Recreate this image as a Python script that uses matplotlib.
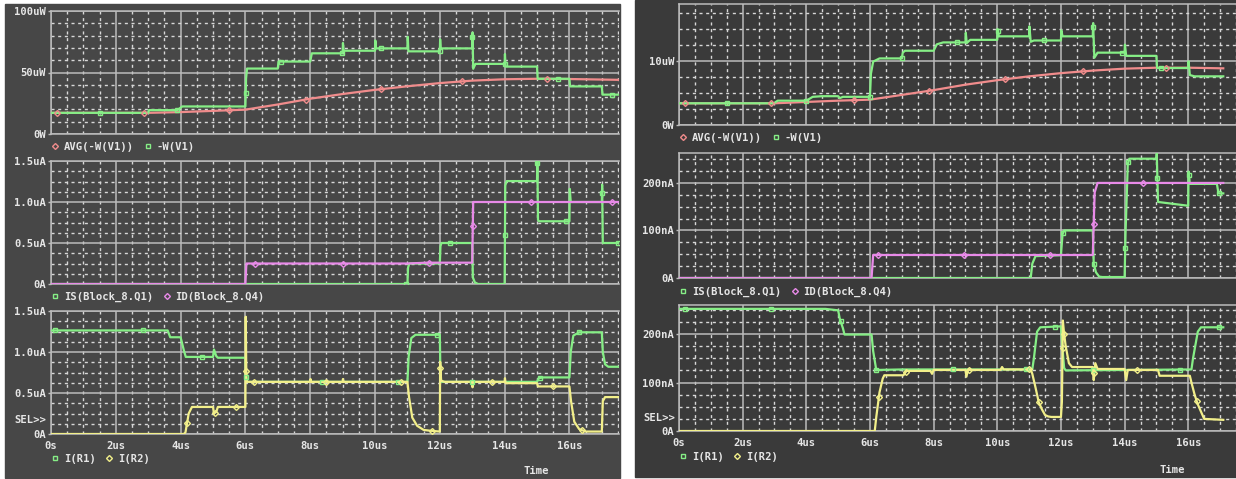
import numpy as np
import matplotlib.pyplot as plt
from matplotlib.patches import Rectangle
from matplotlib.lines import Line2D

plt.rcParams['font.family'] = ['DejaVu Sans Mono']
plt.rcParams['font.weight'] = 'bold'

W, H = 1236, 479

# ---------------- colours ----------------
BG_L = '#474747'
BG_R = '#3a3a3a'
GRID = '#bcbcbc'
DOT = '#d8d8d8'
TXT = '#e6e6e6'
GREEN = '#86ee86'
PINK = '#f08c8c'
VIOLET = '#e88ae8'
YELLOW = '#f2ef8a'

# ================= left screenshot data (time in us) =================
# panel 1: power, uW
l_avg_t = [0, 3.0, 4.0, 5.0, 6.0, 7.0, 8.0, 9.0, 10.0, 11.0, 12.0, 13.0, 14.0, 15.0, 16.0, 17.6]
l_avg_v = [17.2, 17.2, 17.8, 18.8, 19.8, 24.0, 28.7, 32.5, 35.9, 38.8, 41.4, 43.4, 44.5, 44.9, 44.7, 44.0]
l_w_t = [0, 3.0, 3.02, 3.9, 4.05, 6.0, 6.02, 6.05, 7.0, 7.02, 8.0, 8.05,
         9.0, 9.01, 9.03, 10.0, 10.01, 10.03, 11.0, 11.01, 11.03, 12.0, 12.01, 12.03,
         13.0, 13.01, 13.03, 13.1, 14.0, 14.01, 14.03, 15.0, 15.02, 16.0, 16.02, 17.0, 17.02, 17.6]
l_w_v = [17.2, 17.2, 19.4, 19.4, 22.4, 22.4, 45.0, 53.2, 53.2, 58.9, 58.9, 65.6,
         65.6, 74.0, 67.7, 67.7, 76.0, 69.6, 69.6, 79.0, 67.2, 67.2, 77.0, 69.6,
         69.6, 82.5, 53.0, 57.0, 57.0, 65.0, 54.8, 54.8, 44.9, 44.9, 38.7, 38.7, 32.0, 32.0]
l_avg_mk = [0.18, 2.87, 5.48, 7.86, 10.2, 12.68, 15.3]
l_w_mk = [1.5, 3.9, 6.01, 7.1, 8.97, 10.2, 12.0, 13.007, 14.0, 15.65, 17.3]

# panel 2: device currents, uA
l_is_t = [0, 11.0, 11.02, 11.06, 12.0, 12.02, 12.05, 13.0, 13.02, 13.08, 13.18, 14.0, 14.02, 14.06,
          15.0, 15.01, 15.03, 15.06, 16.0, 16.01, 16.04, 17.0, 17.01, 17.03, 17.6]
l_is_v = [0, 0, 0.2, 0.25, 0.25, 0.46, 0.5, 0.5, 0.08, 0.02, 0, 0, 1.2, 1.255,
          1.255, 1.5, 0.78, 0.765, 0.765, 1.16, 1.0, 1.0, 1.21, 0.5, 0.5]
l_id_t = [0, 6.0, 6.03, 11.0, 11.6, 13.0, 13.03, 17.6]
l_id_v = [0, 0, 0.25, 0.25, 0.26, 0.26, 1.0, 1.0]
l_is_mk = [10.97, 12.3, 14.01, 15.009, 15.9, 17.005, 17.5]
l_id_mk = [6.3, 9.0, 11.67, 13.018, 14.8, 17.3]

# panel 3: resistor currents, uA
l_r1_t = [0, 3.6, 3.68, 4.0, 4.1, 4.16, 5.0, 5.03, 5.1, 5.15, 6.0, 6.02, 6.05,
          11.0, 11.04, 11.12, 11.25, 12.0, 12.02, 12.05, 15.0, 15.05, 15.2, 16.0, 16.04, 16.12, 16.3,
          17.0, 17.03, 17.1, 17.2, 17.6]
l_r1_v = [1.263, 1.263, 1.18, 1.18, 1.02, 0.94, 0.94, 1.03, 0.95, 0.93, 0.93, 0.7, 0.636,
          0.636, 0.95, 1.17, 1.21, 1.21, 0.7, 0.636, 0.636, 0.68, 0.69, 0.69, 1.0, 1.2, 1.24,
          1.24, 1.0, 0.85, 0.82, 0.82]
l_r2_t = [0, 4.1, 4.15, 4.25, 4.35, 5.0, 5.03, 5.1, 5.15, 6.0, 6.01, 6.03, 6.06,
          8.0, 8.01, 8.03, 9.0, 9.01, 9.03, 11.0, 11.05, 11.15, 11.3, 11.5, 11.7, 12.0, 12.01, 12.04, 12.15,
          13.0, 13.01, 13.03, 14.0, 14.01, 14.03, 15.0, 15.03, 16.0, 16.05, 16.15, 16.3, 16.5,
          17.0, 17.03, 17.1, 17.6]
l_r2_v = [0, 0, 0.02, 0.25, 0.33, 0.33, 0.25, 0.27, 0.33, 0.33, 1.43, 0.66, 0.636,
          0.636, 0.67, 0.636, 0.636, 0.67, 0.636, 0.636, 0.45, 0.2, 0.1, 0.05, 0.04, 0.03, 0.88, 0.65, 0.636,
          0.636, 0.57, 0.636, 0.636, 0.68, 0.62, 0.62, 0.58, 0.58, 0.4, 0.15, 0.06, 0.03,
          0.03, 0.4, 0.45, 0.45]
l_r1_mk = [0.12, 2.85, 4.65, 6.02, 8.37, 10.7, 11.9, 13.0, 15.1, 16.3]
l_r2_mk = [4.2, 5.06, 5.7, 6.004, 6.27, 8.5, 10.8, 11.75, 12.02, 13.6, 15.5, 16.4]

# ================= right screenshot data =================
# panel 1: power, uW
r_avg_t = [0, 3.0, 4.0, 5.0, 6.0, 7.0, 8.0, 9.0, 10.0, 11.0, 12.0, 13.0, 14.0, 15.0, 16.0, 17.1]
r_avg_v = [3.39, 3.39, 3.6, 3.8, 3.96, 4.7, 5.45, 6.3, 7.0, 7.6, 8.1, 8.5, 8.8, 8.95, 8.95, 8.85]
r_w_t = [0, 2.98, 3.1, 4.0, 4.2, 4.5, 5.0, 5.05, 5.15, 6.0, 6.03, 6.1, 6.3, 7.0, 7.03, 7.1,
         8.0, 8.1, 8.3, 9.0, 9.01, 9.04, 9.15, 10.0, 10.01, 10.05, 11.0, 11.01, 11.05, 11.15,
         12.0, 12.01, 12.05, 13.0, 13.01, 13.05, 13.15, 14.0, 14.01, 14.05, 15.0, 15.02,
         16.0, 16.01, 16.05, 16.2, 17.1]
r_w_v = [3.39, 3.39, 3.8, 3.8, 4.4, 4.5, 4.5, 4.2, 4.4, 4.4, 8.0, 9.9, 10.4, 10.4, 11.3, 11.6,
         11.6, 12.6, 12.9, 12.9, 14.4, 12.8, 13.3, 13.3, 15.0, 13.85, 13.85, 15.4, 13.0, 13.2,
         13.2, 14.8, 13.85, 13.85, 15.9, 10.5, 11.3, 11.3, 12.55, 10.8, 10.8, 8.9,
         8.9, 9.95, 7.8, 7.6, 7.6]
r_avg_mk = [0.18, 2.9, 5.5, 7.87, 10.25, 12.7, 15.3]
r_w_mk = [1.52, 4.0, 6.0, 7.0, 8.72, 10.02, 11.46, 13.007, 13.92, 15.15]

# panel 2: device currents, nA
r_is_t = [0, 11.05, 11.1, 11.2, 12.0, 12.05, 12.1, 13.0, 13.03, 13.1, 13.2, 13.3,
          14.0, 14.03, 14.1, 14.15, 15.0, 15.01, 15.05, 16.0, 16.01, 16.05, 16.9, 16.95, 17.1]
r_is_v = [0, 0, 30, 46, 48, 92, 100, 100, 30, 12, 3, 2,
          2, 95, 240, 251, 251, 262, 160, 152, 224, 198, 198, 178, 178]
r_id_t = [0, 6.05, 6.1, 13.0, 13.06, 13.15, 17.1]
r_id_v = [0, 0, 48.4, 48.4, 180, 200, 200]
r_is_mk = [12.07, 13.03, 14.02, 14.12, 15.03, 16.02, 16.97]
r_id_mk = [6.25, 8.95, 11.65, 13.03, 14.58]

# panel 3: resistor currents, nA
r_r1_t = [0, 4.6, 5.0, 5.05, 5.15, 5.2, 6.05, 6.1, 6.2, 6.25, 7.0,
          11.1, 11.15, 11.25, 11.35, 12.0, 12.05, 12.1, 12.15, 16.1, 16.15, 16.3, 16.4, 17.1]
r_r1_v = [252, 252, 249, 232, 212, 199, 199, 165, 125, 126, 127,
          127, 150, 205, 214, 216, 170, 130, 125, 127, 150, 205, 214, 214]
r_r2_t = [0, 6.15, 6.2, 6.3, 6.4, 6.45, 7.05, 7.15, 7.9, 7.95, 8.0, 9.0, 9.03, 9.08,
          10.1, 10.15, 10.2, 11.05, 11.1, 11.2, 11.3, 11.4, 11.5, 11.6, 11.7, 12.0, 12.03, 12.06,
          12.1, 12.15, 12.25, 12.35, 13.0, 13.03, 13.08, 13.15, 14.0, 14.05, 14.1, 15.05, 15.1,
          16.05, 16.1, 16.2, 16.3, 16.4, 16.5, 17.1]
r_r2_v = [0, 0, 30, 80, 108, 115, 115, 124, 124, 118, 126, 126, 112, 126,
          126, 132, 127, 127, 118, 90, 60, 45, 33, 30, 29, 29, 60, 228,
          200, 175, 140, 132, 132, 105, 140, 128, 128, 105, 126, 126, 114,
          114, 100, 75, 55, 40, 25, 23]
r_r1_mk = [0.18, 2.9, 5.08, 6.2, 8.6, 10.9, 11.8, 13.0, 15.75, 16.98]
r_r2_mk = [6.28, 7.12, 9.1, 11.0, 11.3, 12.05, 12.1, 13.05, 14.4, 16.27]

x_ticks = [0, 2, 4, 6, 8, 10, 12, 14, 16]
x_labels = ['0s', '2us', '4us', '6us', '8us', '10us', '12us', '14us', '16us']

FS = 7.6

fig = plt.figure(figsize=(W / 100, H / 100), dpi=100)
fig.patch.set_facecolor('white')


def px_rect(x0, y0, x1, y1, color):
    fig.add_artist(Rectangle((x0 / W, 1 - y1 / H), (x1 - x0) / W, (y1 - y0) / H,
                             transform=fig.transFigure, color=color, zorder=0))


def px_axes(x0, y0, x1, y1):
    return fig.add_axes([x0 / W, 1 - y1 / H, (x1 - x0) / W, (y1 - y0) / H])


def setup(ax, tmax, ymax, yticks, ylabels, ystep, show_x):
    ax.set_facecolor('none')
    ax.set_xlim(0, tmax)
    ax.set_ylim(0, ymax)
    ax.set_xticks(x_ticks)
    ax.set_xticks(np.arange(0, 18, 0.5), minor=True)
    ax.set_yticks(yticks)
    ax.set_yticklabels(ylabels)
    ax.set_yticks(np.arange(0, ymax, ystep), minor=True)
    ax.grid(which='major', color=GRID, lw=1.1)
    ax.grid(which='minor', color=DOT, lw=1.0, ls=(0, (2.2, 2.6)))
    ax.set_axisbelow(True)
    ax.tick_params(which='minor', length=0)
    ax.tick_params(axis='y', which='major', length=2.5, width=1, color=GRID, pad=1,
                   labelsize=FS, labelcolor=TXT)
    ax.tick_params(axis='x', which='major', length=0, pad=5, labelsize=FS, labelcolor=TXT)
    if show_x:
        ax.set_xticklabels(x_labels)
    else:
        ax.tick_params(axis='x', labelbottom=False)
    ax.spines['right'].set_visible(False)
    for s in ('left', 'top', 'bottom'):
        ax.spines[s].set_color(GRID)
        ax.spines[s].set_linewidth(1.1)


def trace(ax, t, v, color, marker, mk):
    ax.plot(t, v, color=color, lw=1.6, zorder=3)
    ms = 3.2 if marker == 's' else 3.0
    ax.plot(mk, np.interp(mk, t, v), ls='none', marker=marker, ms=ms, mfc='none',
            mec=color, mew=1.0, zorder=4)


def legend(ax, entries, x_px, y_px):
    handles = [Line2D([], [], ls='none', marker=m, ms=3.2 if m == 's' else 3.0,
                      mfc='none', mec=c, mew=1.0) for c, m, _ in entries]
    labels = [lab for _, _, lab in entries]
    ax.legend(handles, labels, loc='center left', bbox_to_anchor=(x_px / W, 1 - y_px / H),
              bbox_transform=fig.transFigure, ncol=len(entries), frameon=False,
              borderpad=0, borderaxespad=0, handlelength=0.8, handletextpad=0.45,
              columnspacing=0.85, prop={'size': FS, 'weight': 'bold'}, labelcolor=TXT)


# backgrounds of the two screenshots
px_rect(5, 4, 620, 478, BG_L)
px_rect(635, 0, 1236, 477, BG_R)

# ---------------- left screenshot ----------------
L_T = 17.53
ua = [0, 0.5, 1.0, 1.5]
ua_lab = ['0A', '0.5uA', '1.0uA', '1.5uA']

ax = px_axes(51, 11, 619, 134)
setup(ax, L_T, 100, [0, 50, 100], ['0W', '50uW', '100uW'], 10, False)
trace(ax, l_avg_t, l_avg_v, PINK, 'D', l_avg_mk)
trace(ax, l_w_t, l_w_v, GREEN, 's', l_w_mk)
legend(ax, [(PINK, 'D', 'AVG(-W(V1))'), (GREEN, 's', '-W(V1)')], 51, 147)

ax = px_axes(51, 161, 619, 284)
setup(ax, L_T, 1.5, ua, ua_lab, 0.125, False)
trace(ax, l_is_t, l_is_v, GREEN, 's', l_is_mk)
trace(ax, l_id_t, l_id_v, VIOLET, 'D', l_id_mk)
legend(ax, [(GREEN, 's', 'IS(Block_8.Q1)'), (VIOLET, 'D', 'ID(Block_8.Q4)')], 51, 297)

ax = px_axes(51, 311, 619, 434)
setup(ax, L_T, 1.5, ua, ua_lab, 0.125, True)
trace(ax, l_r1_t, l_r1_v, GREEN, 's', l_r1_mk)
trace(ax, l_r2_t, l_r2_v, YELLOW, 'D', l_r2_mk)
legend(ax, [(GREEN, 's', 'I(R1)'), (YELLOW, 'D', 'I(R2)')], 51, 459)
fig.text(46 / W, 1 - 420 / H, 'SEL>>', ha='right', va='center', fontsize=FS, color=TXT)
fig.text(536 / W, 1 - 471 / H, 'Time', ha='center', va='center', fontsize=FS, color=TXT)

# ---------------- right screenshot ----------------
R_T = 16.98
na = [0, 100, 200]
na_lab = ['0A', '100nA', '200nA']

ax = px_axes(679, 4, 1236, 125)
setup(ax, R_T, 18.9, [0, 10], ['0W', '10uW'], 2.5, False)
trace(ax, r_avg_t, r_avg_v, PINK, 'D', r_avg_mk)
trace(ax, r_w_t, r_w_v, GREEN, 's', r_w_mk)
legend(ax, [(PINK, 'D', 'AVG(-W(V1))'), (GREEN, 's', '-W(V1)')], 679, 138)

ax = px_axes(679, 153, 1236, 278)
setup(ax, R_T, 263, na, na_lab, 25, False)
trace(ax, r_is_t, r_is_v, GREEN, 's', r_is_mk)
trace(ax, r_id_t, r_id_v, VIOLET, 'D', r_id_mk)
legend(ax, [(GREEN, 's', 'IS(Block_8.Q1)'), (VIOLET, 'D', 'ID(Block_8.Q4)')], 679, 292)

ax = px_axes(679, 305, 1236, 431)
setup(ax, R_T, 260, na, na_lab, 25, True)
trace(ax, r_r1_t, r_r1_v, GREEN, 's', r_r1_mk)
trace(ax, r_r2_t, r_r2_v, YELLOW, 'D', r_r2_mk)
legend(ax, [(GREEN, 's', 'I(R1)'), (YELLOW, 'D', 'I(R2)')], 679, 457)
fig.text(675 / W, 1 - 418 / H, 'SEL>>', ha='right', va='center', fontsize=FS, color=TXT)
fig.text(1172 / W, 1 - 470 / H, 'Time', ha='center', va='center', fontsize=FS, color=TXT)

fig.savefig('out.png', dpi=100, facecolor='white')
